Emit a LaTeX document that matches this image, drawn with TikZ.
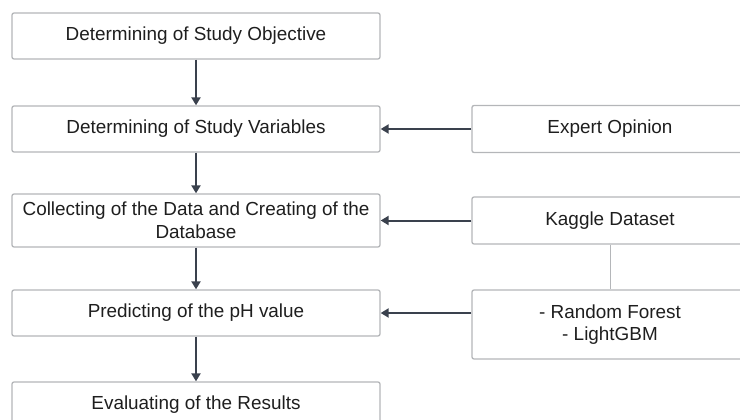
\documentclass[tikz,border=0pt]{standalone}
\usepackage{fontspec}
\setmainfont{Liberation Sans}
\usetikzlibrary{arrows.meta,positioning}
\definecolor{fframe}{HTML}{B4B6B9}
\definecolor{farrow}{HTML}{3A414D}
\definecolor{ftext}{HTML}{1E1E1E}

\begin{document}
\begin{tikzpicture}[x=1pt, y=-1pt, font=\fontsize{18.9}{22.7}\selectfont,
  stage/.style={draw=fframe, line width=1.3pt, rounded corners=2pt, minimum width=368pt,
    minimum height=46pt, inner sep=0pt, align=center, text=ftext},
  source/.style={stage, minimum width=276pt},
  flow/.style={draw=farrow, line width=2pt, -{Triangle[length=8pt,width=9pt]}}]
\path[use as bounding box] (0,0) rectangle (740,420);
\clip (0,0) rectangle (740,420);
% ---------- main steps ----------
\node[stage] (objective) at (196,36) {Determining of Study Objective};
\node[stage] (variables) at (196,129) {Determining of Study Variables};
\node[stage, minimum height=53pt] (database) at (196,220.5)
   {Collecting of the Data and Creating of the\\Database};
\node[stage] (predict) at (196,313) {Predicting of the pH value};
\node[stage] (evaluate) at (196,405) {Evaluating of the Results};
\foreach \a/\b in {objective/variables, variables/database, database/predict, predict/evaluate}
  {\draw[flow] (\a) -- (\b);}
% ---------- inputs ----------
\node[source, minimum height=47pt] (expert) at (610,129) {Expert Opinion};
\node[source, minimum height=47pt] (kaggle) at (610,220.5) {Kaggle Dataset};
\node[source, minimum height=69pt] (models) at (610,324.5) {- Random Forest\\- LightGBM};
\draw[fframe, line width=1pt] (kaggle) -- (models);
\draw[flow] (expert) -- (variables);
\draw[flow] (kaggle) -- (database);
\draw[flow] (models.west |- predict) -- (predict);
\end{tikzpicture}
\end{document}
